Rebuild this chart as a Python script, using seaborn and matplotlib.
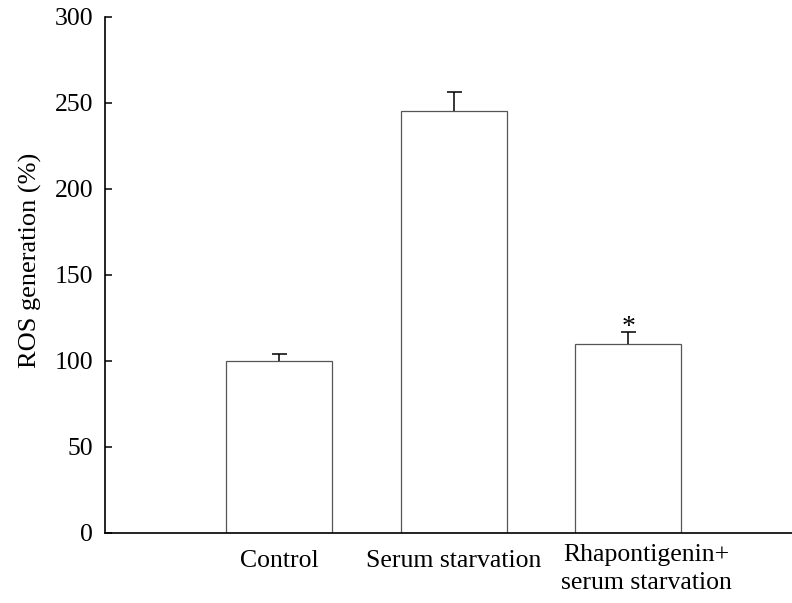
import matplotlib
matplotlib.use("Agg")
import matplotlib.pyplot as plt
import matplotlib.transforms as mtransforms
import seaborn as sns
import pandas as pd

categories = ["Control", "Serum starvation", "Rhapontigenin+\nserum starvation"]
values = [100, 245, 110]
errors = [4, 11, 6.5]
yticks = [0, 50, 100, 150, 200, 250, 300]

sns.set_theme(style="white")
plt.rcParams["font.family"] = ["Liberation Serif", "DejaVu Serif"]

df = pd.DataFrame({"group": categories, "ros": values})

fig = plt.figure(figsize=(7.92, 6.03), dpi=100)
ax = fig.add_axes([0.1326, 0.1161, 1.0 - 0.1326, 0.9723 - 0.1161])

sns.barplot(data=df, x="group", y="ros", order=categories, errorbar=None,
            color="white", edgecolor="#555555", linewidth=0.9, width=0.608, ax=ax)

xpos = list(range(len(categories)))
eb = ax.errorbar(xpos, values, yerr=[[0] * len(errors), errors], fmt="none",
                 ecolor="black", elinewidth=1.1, capsize=5.4, capthick=1.1, zorder=3)
# hide the lower caps (only upper error shown)
caplines = eb[1]
if len(caplines) >= 1:
    caplines[0].set_visible(False)

ax.text(2, 115.5, "*", ha="center", va="baseline", fontsize=20, color="black")

ax.set_xlim(-1.0, 2.94)
ax.set_ylim(0, 300)
ax.set_yticks(yticks)
ax.set_yticklabels([str(t) for t in yticks])
ax.set_xlabel("")
ax.set_ylabel("ROS generation (%)", fontsize=19, color="black")
ax.yaxis.set_label_coords(-0.092, 0.529)

ax.tick_params(axis="y", direction="in", length=5, width=1.1, pad=8.5,
               labelsize=18.5, colors="black", left=True)
ax.tick_params(axis="x", length=0, pad=12.5, labelsize=18.5, colors="black")

for lab in ax.get_xticklabels():
    lab.set_color("black")
    if lab.get_text().startswith("Rhapontigenin"):
        lab.set_linespacing(1.35)
        lab.set_transform(lab.get_transform() +
                          mtransforms.ScaledTranslation(0.18, 0.06, fig.dpi_scale_trans))

sns.despine(ax=ax)
for side in ["left", "bottom"]:
    ax.spines[side].set_color("black")
    ax.spines[side].set_linewidth(1.2)

fig.savefig("out.png", dpi=100)
